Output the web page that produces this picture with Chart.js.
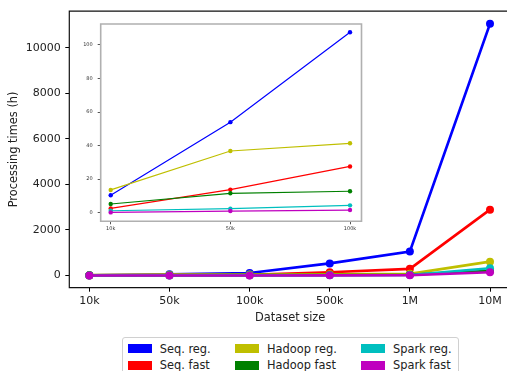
<!DOCTYPE html>
<html>
<head>
<meta charset="utf-8">
<script src="https://cdn.jsdelivr.net/npm/chart.js@4.4.1/dist/chart.umd.min.js"></script>
<style>
  html, body { margin: 0; padding: 0; background: #fff; overflow: hidden; width: 507px; height: 371px; }
  #main { position: absolute; left: 0; top: 0; }
  #inset { position: absolute; left: 60px; top: 15px; }
  #legend { position: absolute; left: 122px; top: 337px; width: 335px; height: 40px;
    border: 1px solid #d0d0d0; border-radius: 3px; background: #fff;
    font-family: "DejaVu Sans", sans-serif; font-size: 11.4px; color: #222; }
  .item { position: absolute; height: 14px; line-height: 14px; white-space: nowrap; }
  .sw { position: absolute; width: 24px; height: 9px; top: 2.5px; }
  .lbl { position: absolute; left: 32px; top: 0; }
</style>
</head>
<body>
<canvas id="main" width="515" height="332"></canvas>
<canvas id="inset" width="310" height="225"></canvas>
<div id="legend"></div>
<script>
const categories = ['10k', '50k', '100k', '500k', '1M', '10M'];
const seriesNames = ['Seq. reg.', 'Seq. fast', 'Hadoop reg.', 'Hadoop fast', 'Spark reg.', 'Spark fast'];
const seqReg     = [10.4, 54, 107.6, 530, 1050, 11050];
const seqFast    = [2.6, 13.8, 27.6, 143, 290, 2890];
const hadoopReg  = [13.6, 36.8, 41.4, 55, 70, 606];
const hadoopFast = [5.2, 11.6, 12.8, 20, 30, 200];
const sparkReg   = [1.2, 2.4, 4.4, 10, 20, 316];
const sparkFast  = [0.2, 1.0, 1.6, 5, 10, 143];
const mainYTicks  = [0, 2000, 4000, 6000, 8000, 10000];
const insetYTicks = [0, 20, 40, 60, 80, 100];
const insetCount = 3; // inset shows 10k, 50k, 100k

const colors = ['#0000ff', '#ff0000', '#bfbf00', '#008000', '#00bfbf', '#bf00bf'];
const allSeries = [seqReg, seqFast, hadoopReg, hadoopFast, sparkReg, sparkFast];
const FONT = '"DejaVu Sans", sans-serif';

function makeDatasets(n, lw, pr) {
  return allSeries.map((s, i) => ({
    label: seriesNames[i],
    data: s.slice(0, n).map((v, j) => ({ x: j, y: v })),
    borderColor: colors[i],
    backgroundColor: colors[i],
    borderWidth: lw,
    pointRadius: pr,
    pointBorderWidth: 0,
    pointHoverRadius: pr,
    tension: 0,
    order: allSeries.length - i
  }));
}

const framePlugin = (color, width, fill, drawRight) => ({
  id: 'frame',
  beforeDatasetsDraw(chart) {
    if (!fill) return;
    const a = chart.chartArea, ctx = chart.ctx;
    ctx.save(); ctx.fillStyle = '#fff';
    ctx.fillRect(a.left, a.top, a.right - a.left, a.bottom - a.top);
    ctx.restore();
  },
  afterDraw(chart) {
    const a = chart.chartArea, ctx = chart.ctx;
    ctx.save(); ctx.strokeStyle = color; ctx.lineWidth = width;
    ctx.beginPath();
    if (drawRight) {
      ctx.rect(a.left, a.top, a.right - a.left, a.bottom - a.top);
    } else {
      ctx.moveTo(chart.width, a.top);
      ctx.lineTo(a.left, a.top);
      ctx.lineTo(a.left, a.bottom);
      ctx.lineTo(chart.width, a.bottom);
    }
    ctx.stroke();
    ctx.restore();
  }
});

Chart.defaults.font.family = FONT;

new Chart(document.getElementById('main'), {
  type: 'line',
  data: { datasets: makeDatasets(categories.length, 2.6, 4) },
  options: {
    responsive: false, devicePixelRatio: 1, animation: false,
    layout: { padding: { top: 7.3, right: 0, left: 0, bottom: 0 } },
    plugins: { legend: { display: false }, tooltip: { enabled: false } },
    scales: {
      x: {
        type: 'linear', min: -0.25, max: 5.262,
        afterBuildTicks(s) { s.ticks = categories.map((c, i) => ({ value: i })); },
        afterFit(s) { s.height = 44.3; },
        ticks: { callback: (v) => categories[v], color: '#222', font: { size: 11 }, padding: 3, maxRotation: 0, autoSkip: false },
        grid: { display: true, drawOnChartArea: false, drawTicks: true, tickLength: 4, color: '#000' },
        border: { display: false },
        title: { display: true, text: 'Dataset size', color: '#222', font: { size: 11.4 }, padding: { top: 0, bottom: 6.7 } }
      },
      y: {
        type: 'linear', min: -537, max: 11604,
        afterBuildTicks(s) { s.ticks = mainYTicks.map(v => ({ value: v })); },
        afterFit(s) { s.width = 69.3; },
        ticks: { callback: (v) => String(v), color: '#222', font: { size: 11 }, padding: 4.5 },
        grid: { display: true, drawOnChartArea: false, drawTicks: true, tickLength: 4, color: '#000' },
        border: { display: false },
        title: { display: true, text: 'Processing times (h)', color: '#222', font: { size: 11.4 }, padding: { top: 7.4, bottom: 0 } }
      }
    }
  },
  plugins: [framePlugin('#111', 1.2, false, false)]
});

new Chart(document.getElementById('inset'), {
  type: 'line',
  data: { datasets: makeDatasets(insetCount, 1.2, 2.2) },
  options: {
    responsive: false, devicePixelRatio: 1, animation: false,
    layout: { padding: { top: 9, right: 8.5, left: 0, bottom: 0 } },
    plugins: { legend: { display: false }, tooltip: { enabled: false } },
    scales: {
      x: {
        type: 'linear', min: -0.0836, max: 2.096,
        afterBuildTicks(s) { s.ticks = categories.slice(0, insetCount).map((c, i) => ({ value: i })); },
        afterFit(s) { s.height = 18.7; },
        ticks: { callback: (v) => categories[v], color: '#333', font: { size: 5 }, padding: 1.5, maxRotation: 0, autoSkip: false },
        grid: { display: true, drawOnChartArea: false, drawTicks: true, tickLength: 3, color: '#555' },
        border: { display: false }
      },
      y: {
        type: 'linear', min: -5.1, max: 112.5,
        afterBuildTicks(s) { s.ticks = insetYTicks.map(v => ({ value: v })); },
        afterFit(s) { s.width = 40.7; },
        ticks: { color: '#333', font: { size: 5 }, padding: 5 },
        grid: { display: true, drawOnChartArea: false, drawTicks: true, tickLength: 3, color: '#555' },
        border: { display: false }
      }
    }
  },
  plugins: [framePlugin('#b0b0b0', 1.6, true, true)]
});

// legend (matplotlib-style, 3 columns, column-major)
const legend = document.getElementById('legend');
const colX = [4.7, 112, 238];
const rowY = [3.5, 20];
seriesNames.forEach((name, i) => {
  const col = Math.floor(i / 2), row = i % 2;
  const it = document.createElement('div');
  it.className = 'item';
  it.style.left = colX[col] + 'px';
  it.style.top = rowY[row] + 'px';
  const sw = document.createElement('div');
  sw.className = 'sw'; sw.style.background = colors[i];
  const lb = document.createElement('span');
  lb.className = 'lbl'; lb.textContent = name;
  it.appendChild(sw); it.appendChild(lb);
  legend.appendChild(it);
});
</script>
</body>
</html>
